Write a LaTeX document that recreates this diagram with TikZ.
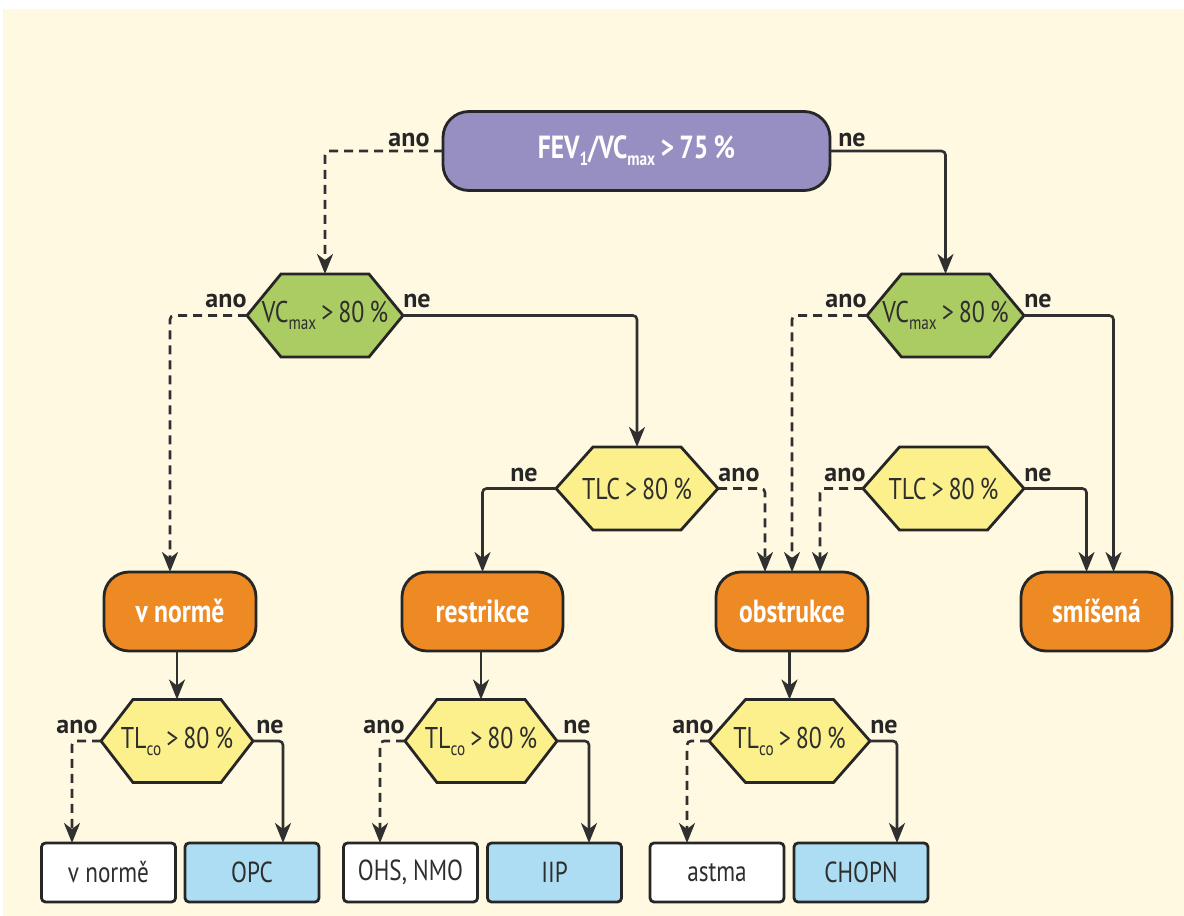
\documentclass[tikz,border=0pt]{standalone}
\usepackage{fontspec}
\setmainfont[FakeStretch=0.8]{PT Sans}
\newfontfamily\lblfont{PT Sans}
\usetikzlibrary{arrows.meta,calc}

\definecolor{bgcream}{HTML}{FFF9E2}
\definecolor{linegray}{HTML}{303030}
\definecolor{framegray}{HTML}{262626}
\definecolor{textgray}{HTML}{2E2E2E}
\definecolor{startpurple}{HTML}{978FC1}
\definecolor{testgreen}{HTML}{ABCB63}
\definecolor{testyellow}{HTML}{FCF08D}
\definecolor{resorange}{HTML}{EE8A24}
\definecolor{dxblue}{HTML}{ADDDF3}

% lowered small index text (max, 1, co)
\newcommand\lowtxt[1]{\raisebox{-7pt}{\fontsize{19}{19}\selectfont #1}}

% hexagonal decision box: name, cx, cy, half width, fill, text
\newcommand\hexa[6]{%
  \filldraw[hexframe, fill=#5] (#2-#4,#3) -- (#2-44,#3-41.5) -- (#2+44,#3-41.5)
     -- (#2+#4,#3) -- (#2+44,#3+41.5) -- (#2-44,#3+41.5) -- cycle;
  \node[hextext, minimum width=2*#4] (#1) at (#2,#3) {#6};}

\tikzset{
  hexframe/.style={draw=framegray, line width=2.8pt, line join=miter},
  hextext/.style={minimum height=83, inner sep=0pt, outer sep=0pt,
    text=textgray, font=\fontsize{30}{30}\selectfont},
  startbox/.style={draw=framegray, line width=2.8pt, fill=startpurple,
    rounded corners=26pt, minimum width=387, minimum height=79,
    inner sep=0pt, outer sep=0pt, text=white,
    font=\bfseries\fontsize{32}{32}\selectfont},
  resbox/.style={draw=framegray, line width=2.8pt, fill=resorange,
    rounded corners=25pt, minimum height=79, inner sep=0pt, outer sep=0pt,
    text=white, font=\bfseries\fontsize{32}{32}\selectfont},
  dxbox/.style={draw=framegray, line width=2.8pt, rounded corners=4pt,
    minimum height=59, minimum width=134, inner sep=0pt, outer sep=0pt,
    text=textgray, font=\fontsize{29}{29}\selectfont},
  lbl/.style={inner sep=0pt, text=framegray,
    font=\lblfont\bfseries\fontsize{26}{26}\selectfont},
  link/.style={draw=linegray, line width=2.6pt, rounded corners=4pt,
    -{Stealth[length=20pt, width=16pt, inset=6pt]}},
  yes/.style={link, dash pattern=on 9pt off 6pt},
  no/.style={link},
}

\begin{document}
\begin{tikzpicture}[x=1pt, y=-1pt]
\useasboundingbox (0,0) rectangle (1184,916);
\fill[bgcream] (3,9) rectangle (1184,916);

% start
\node[startbox] (top) at (636.5,151) {FEV\lowtxt{1}/VC\lowtxt{max}\,>\,75\,\%};

% decision tests
\hexa{g1}{325}{315.5}{78}{testgreen}{VC\lowtxt{max}\,>\,80\,\%}
\hexa{g2}{945.5}{315.5}{78.5}{testgreen}{VC\lowtxt{max}\,>\,80\,\%}
\hexa{t1}{637}{488.5}{81}{testyellow}{TLC\,>\,80\,\%}
\hexa{t2}{943.5}{488.5}{80.5}{testyellow}{TLC\,>\,80\,\%}

% results
\node[resbox, minimum width=152] (o1) at (180,611.5) {v normě};
\node[resbox, minimum width=161] (o2) at (482.5,611.5) {restrikce};
\node[resbox, minimum width=152] (o3) at (792,611.5) {obstrukce};
\node[resbox, minimum width=151] (o4) at (1096.5,611.5) {smíšená};

% transfer factor tests
\hexa{c1}{177}{741}{76}{testyellow}{TL\lowtxt{co}\,>\,80\,\%}
\hexa{c2}{481}{741}{76}{testyellow}{TL\lowtxt{co}\,>\,80\,\%}
\hexa{c3}{789.5}{741}{80.5}{testyellow}{TL\lowtxt{co}\,>\,80\,\%}

% diagnoses
\node[dxbox, fill=white] (b1) at (108.5,872.5) {v normě};
\node[dxbox, fill=dxblue] (b2) at (252,872.5) {OPC};
\node[dxbox, fill=white] (b3) at (410.5,872.5) {OHS, NMO};
\node[dxbox, fill=dxblue] (b4) at (554.5,872.5) {IIP};
\node[dxbox, fill=white] (b5) at (717,872.5) {astma};
\node[dxbox, fill=dxblue] (b6) at (861,872.5) {CHOPN};

% connectors
\draw[yes] (top.west) -| (g1.north);
\draw[no]  (top.east) -| (g2.north);
\draw[yes] (g1.west) -| ($(o1.north)+(-10,0)$);
\draw[no]  (g1.east) -| (t1.north);
\draw[yes] (g2.west) -| (o3.north);
\draw[no]  (g2.east) -| ($(o4.north)+(17,0)$);
\draw[no]  (t1.west) -| (o2.north);
\draw[yes] (t1.east) -| ($(o3.north)+(-27,0)$);
\draw[yes] (t2.west) -| ($(o3.north)+(28,0)$);
\draw[no]  (t2.east) -| ($(o4.north)+(-10,0)$);
\draw[no]  (o1.south -| c1.north) -- (c1.north);
\draw[no]  (o2.south -| c2.north) -- (c2.north);
\draw[no]  (o3.south -| c3.north) -- (c3.north);
\draw[yes] (c1.west) -| ($(b1.north)+(-36.5,0)$);
\draw[no]  (c1.east) -| ($(b2.north)+(31,0)$);
\draw[yes] (c2.west) -| ($(b3.north)+(-30.5,0)$);
\draw[no]  (c2.east) -| ($(b4.north)+(34.5,0)$);
\draw[yes] (c3.west) -| ($(b5.north)+(-30,0)$);
\draw[no]  (c3.east) -| ($(b6.north)+(36,0)$);

% branch labels
\node[lbl] (la0) at (409,140) {ano};
\node[lbl] (ln0) at (852,140) {ne};
\node[lbl] (la1) at (226,301) {ano};
\node[lbl] (ln1) at (417,301) {ne};
\node[lbl] (la2) at (846,301) {ano};
\node[lbl] (ln2) at (1038,301) {ne};
\node[lbl] (ln3) at (524,475) {ne};
\node[lbl] (la3) at (739,475) {ano};
\node[lbl] (la4) at (845,475) {ano};
\node[lbl] (ln4) at (1038,475) {ne};
\node[lbl] (la5) at (77,727) {ano};
\node[lbl] (ln5) at (270,727) {ne};
\node[lbl] (la6) at (384,727) {ano};
\node[lbl] (ln6) at (577,727) {ne};
\node[lbl] (la7) at (693,727) {ano};
\node[lbl] (ln7) at (884,727) {ne};
\end{tikzpicture}
\end{document}
